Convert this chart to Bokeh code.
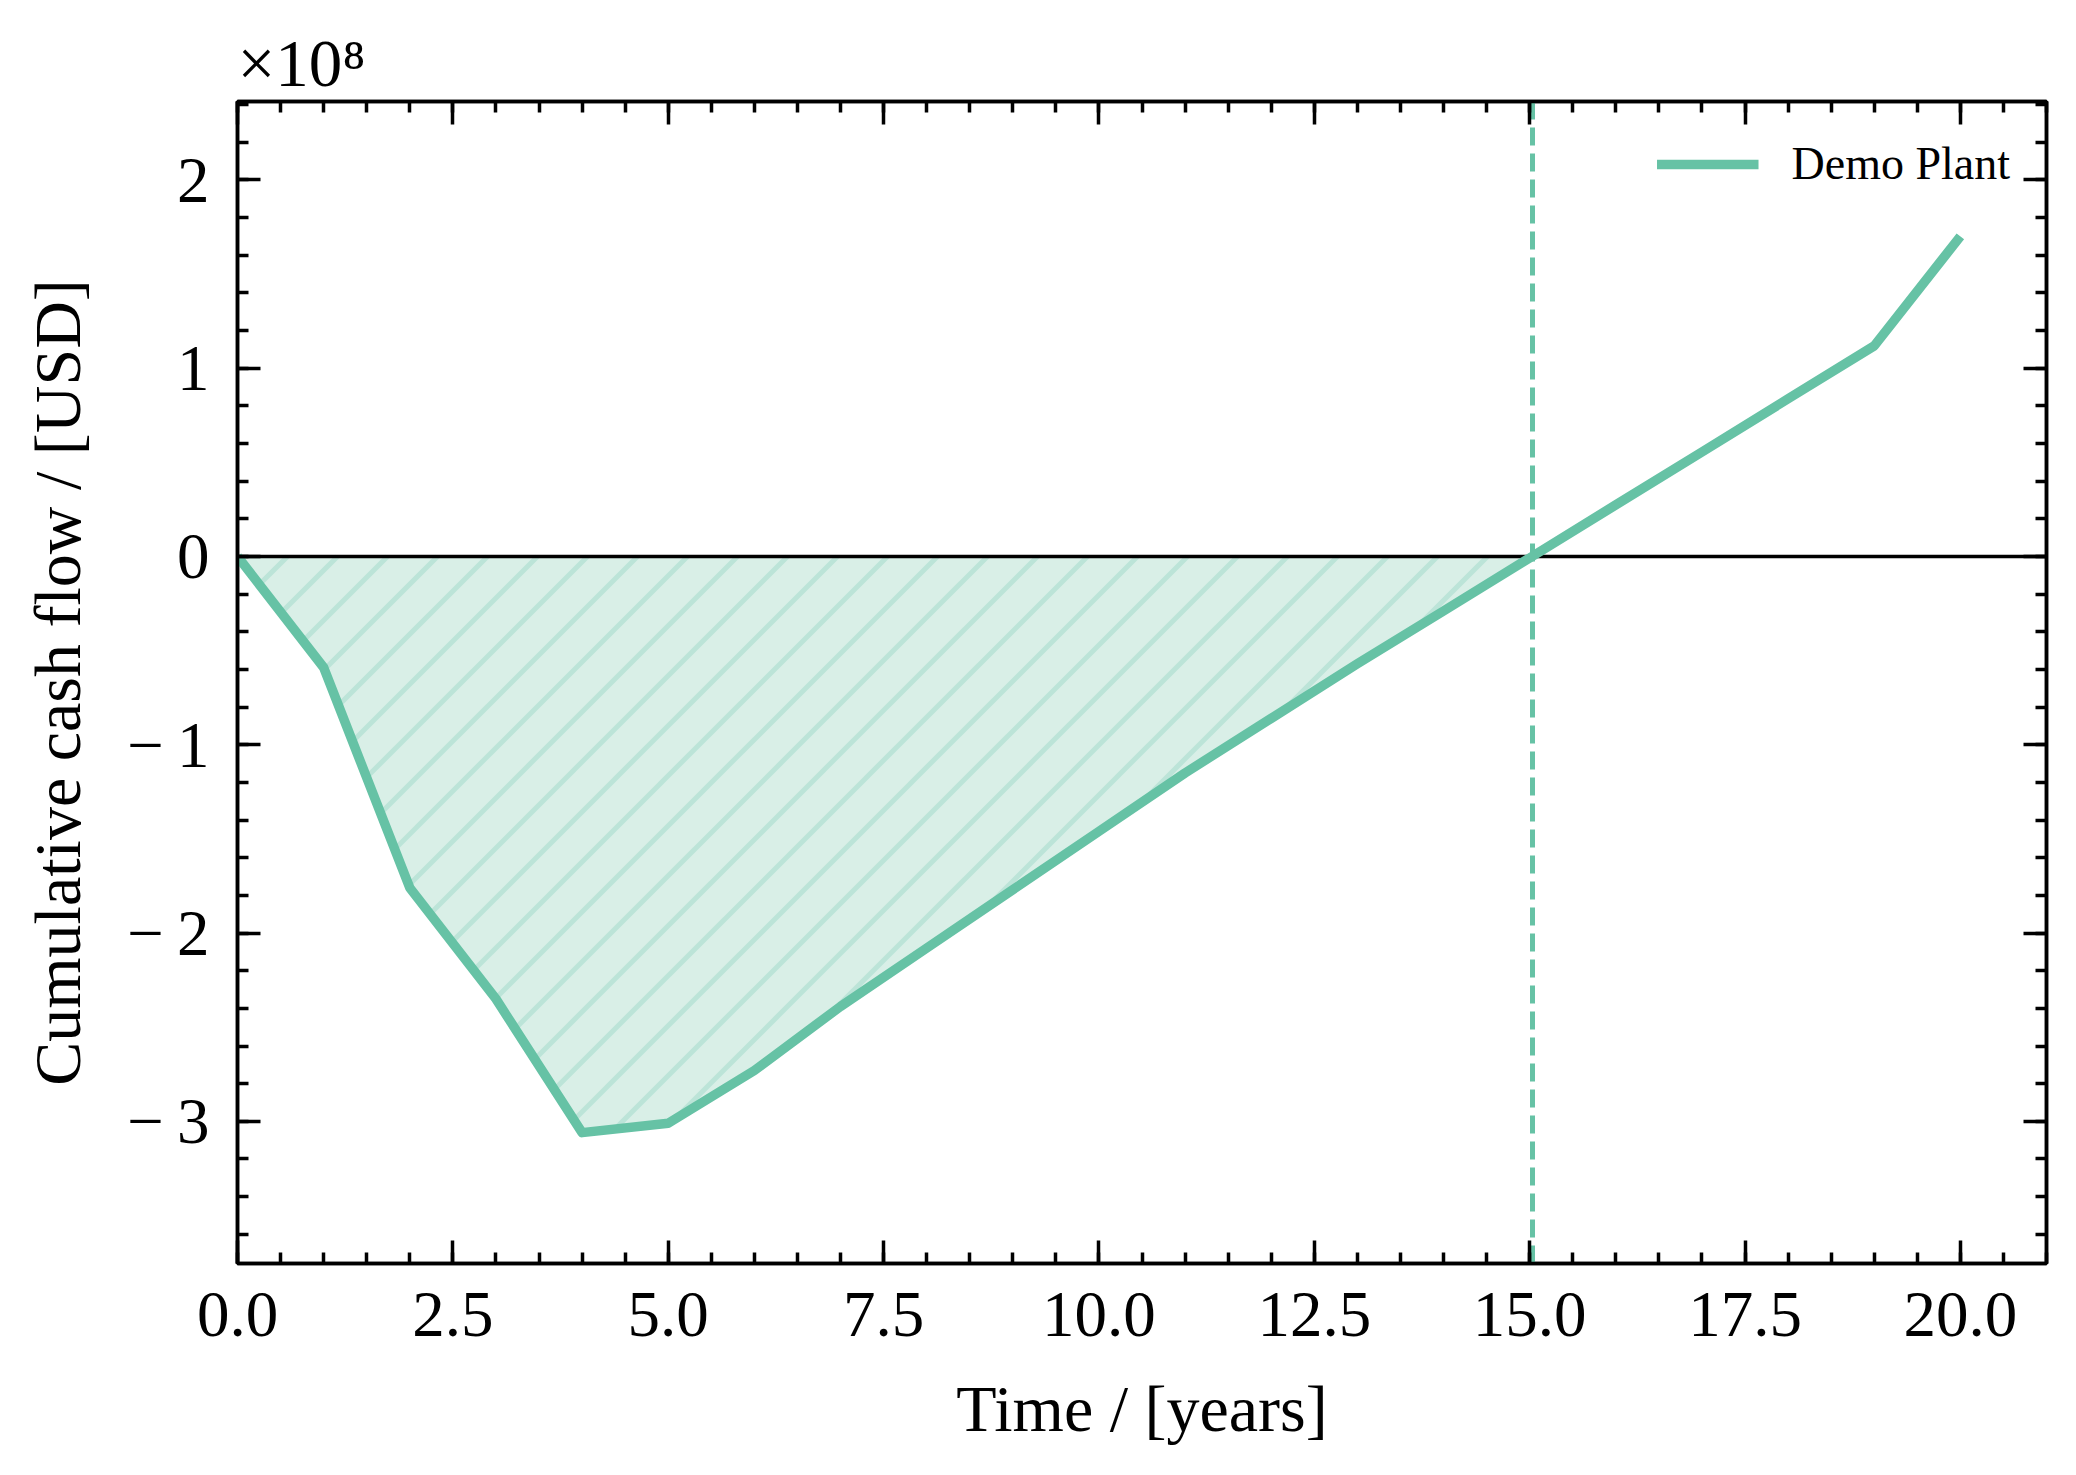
import numpy as np
from bokeh.plotting import figure
from bokeh.models import (Range1d, LinearAxis, FixedTicker, Legend, LegendItem, Title)
from bokeh.embed import file_html
from bokeh.resources import INLINE

# ---------------- data ----------------
years = [0, 1, 2, 3, 4, 5, 6, 7, 8, 9, 10, 11, 12, 13, 14, 15, 16, 17, 18, 19, 20]
# cumulative cash flow in units of 1e8 USD
cash_flow_1e8 = [0.0, -0.59, -1.76, -2.35, -3.06, -3.01, -2.73, -2.39, -2.08, -1.77,
                 -1.46, -1.15, -0.86, -0.57, -0.29, -0.008, 0.274, 0.555, 0.837, 1.118, 1.70]
series_name = "Demo Plant"
scale_text = "\u00d710\u2078"

x_ticks = [0, 2.5, 5, 7.5, 10, 12.5, 15, 17.5, 20]
x_tick_labels = ["0.0", "2.5", "5.0", "7.5", "10.0", "12.5", "15.0", "17.5", "20.0"]
y_ticks = [-3, -2, -1, 0, 1, 2]
y_tick_labels = ["\u2212\u20093", "\u2212\u20092", "\u2212\u20091", "0", "1", "2"]
x_minor = [i * 0.5 for i in range(0, 43)]
y_minor = [round(-3.6 + i * 0.2, 2) for i in range(0, 31)]

x_label = "Time / [years]"
y_label = "Cumulative cash flow / [USD]"

LINE_COLOR = "#66c2a5"
FILL_COLOR = "#d9efe7"
HATCH_COLOR = "#bce4d8"
FONT = "Liberation Serif"

X0, X1 = 0.0, 21.0
Y0, Y1 = -3.755, 2.416
W, H = 2060, 1459
BL, BR, BT, BB = 237, 14, 101, 196
FRAME_W, FRAME_H = W - BL - BR, H - BT - BB

# payback point: where cumulative cash flow crosses zero (linear interpolation)
xs = np.array(years, dtype=float)
ys = np.array(cash_flow_1e8, dtype=float)
idx = int(np.where((ys[:-1] < 0) & (ys[1:] >= 0))[0][-1])
payback = xs[idx] + (0 - ys[idx]) / (ys[idx + 1] - ys[idx]) * (xs[idx + 1] - xs[idx])
fill_x = list(xs[: idx + 1]) + [payback]
fill_y = list(np.minimum(ys[: idx + 1], 0)) + [0.0]

# 45-degree hatch lines (in screen space) clipped to the shaded region
px_per_x = FRAME_W / (X1 - X0)
px_per_y = FRAME_H / (Y1 - Y0)
slope = px_per_x / px_per_y
step = 50.0 / px_per_x
hx0, hy0, hx1, hy1 = [], [], [], []
c = step
while c < payback:
    root = None
    for i in range(len(xs) - 1):
        a, b = xs[i], xs[i + 1]
        if a >= c:
            break
        b = min(b, c)
        fa = np.interp(a, xs, ys) - slope * (a - c)
        fb = np.interp(b, xs, ys) - slope * (b - c)
        if fa >= 0 >= fb:
            root = a + fa / (fa - fb) * (b - a) if fa != fb else a
    if root is not None:
        hx0.append(root)
        hy0.append(float(np.interp(root, xs, ys)))
        hx1.append(c)
        hy1.append(0.0)
    c += step

# ---------------- figure ----------------
p = figure(width=W, height=H, output_backend="svg", toolbar_location=None,
           x_range=Range1d(X0, X1), y_range=Range1d(Y0, Y1),
           min_border_left=BL, min_border_right=BR, min_border_top=BT, min_border_bottom=BB)
p.background_fill_color = "white"
p.border_fill_color = "white"
p.xgrid.visible = False
p.ygrid.visible = False
p.outline_line_color = "black"
p.outline_line_width = 3.5

# scale factor shown above the plot, like an offset text
p.title = Title(text=scale_text, align="left", text_font=FONT, text_font_size="67px",
                text_font_style="normal", text_color="black", standoff=4, offset=0)

# shaded negative region with hatching
p.varea(x=fill_x, y1=fill_y, y2=[0.0] * len(fill_x), fill_color=FILL_COLOR)
p.segment(x0=hx0, y0=hy0, x1=hx1, y1=hy1, line_color=HATCH_COLOR, line_width=5)
# zero line
p.hspan(y=[0], line_color="black", line_width=3.5)
# payback vertical line
p.vspan(x=[payback], line_color=LINE_COLOR, line_width=5, line_dash="18 8")
# main line
r = p.line(xs, ys, line_color=LINE_COLOR, line_width=9.5, line_join="round")

legend = Legend(items=[LegendItem(label=series_name, renderers=[r])], location="top_right")
legend.border_line_color = None
legend.background_fill_alpha = 0
legend.label_text_font = FONT
legend.label_text_font_size = "46px"
legend.label_text_color = "black"
legend.glyph_width = 102
legend.glyph_height = 46
legend.label_height = 46
legend.label_standoff = 33
legend.padding = 20
legend.margin = 36
p.add_layout(legend)


def style_axis(ax, ticks, minor, overrides):
    ax.ticker = FixedTicker(ticks=ticks, minor_ticks=minor)
    ax.major_label_overrides = overrides
    ax.axis_line_color = "black"
    ax.axis_line_width = 3.5
    ax.major_tick_line_width = 3.5
    ax.minor_tick_line_width = 3.5
    ax.major_tick_in = 23
    ax.major_tick_out = 0
    ax.minor_tick_in = 11
    ax.minor_tick_out = 0
    ax.major_label_text_font = FONT
    ax.major_label_text_font_size = "65px"
    ax.major_label_text_color = "black"
    ax.axis_label_text_font = FONT
    ax.axis_label_text_font_size = "66px"
    ax.axis_label_text_font_style = "normal"
    ax.axis_label_text_color = "black"


xax = p.xaxis[0]
yax = p.yaxis[0]
style_axis(xax, x_ticks, x_minor, {t: l for t, l in zip(x_ticks, x_tick_labels)})
style_axis(yax, y_ticks, y_minor, {t: l for t, l in zip(y_ticks, y_tick_labels)})
xax.major_label_standoff = 29
yax.major_label_standoff = 28
xax.axis_label = x_label
yax.axis_label = y_label
xax.axis_label_standoff = 33
yax.axis_label_standoff = 30

top = LinearAxis()
right = LinearAxis()
style_axis(top, x_ticks, x_minor, {t: "" for t in x_ticks})
style_axis(right, y_ticks, y_minor, {t: "" for t in y_ticks})
for ax in (top, right):
    ax.major_label_standoff = 0
    ax.major_label_text_font_size = "1px"
p.add_layout(top, "above")
p.add_layout(right, "right")

open("out.html", "w").write(file_html(p, INLINE))
